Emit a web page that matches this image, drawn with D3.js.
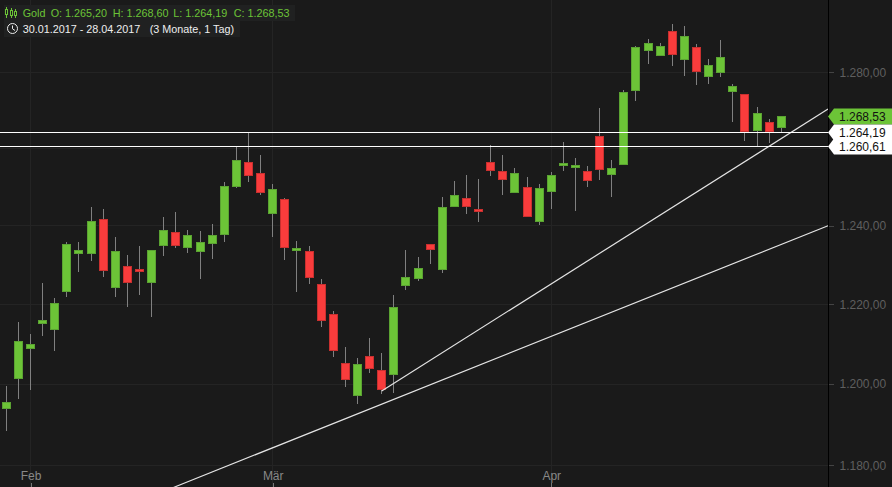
<!DOCTYPE html>
<html><head><meta charset="utf-8">
<script src="https://cdnjs.cloudflare.com/ajax/libs/d3/7.8.5/d3.min.js"></script>
<style>html,body{margin:0;padding:0;background:#1a1a1a;overflow:hidden}svg{display:block;font-family:"Liberation Sans",Arial,sans-serif}</style>
</head><body><svg id="c" width="892" height="487"></svg>
<script>
const instrument = "Gold";
const rangeText = "30.01.2017 - 28.04.2017";
const rangeNote = "(3 Monate, 1 Tag)";
const open  = [1193.8,1201.3,1208.8,1215.0,1213.5,1223.0,1232.7,1232.7,1241.6,1224.0,1229.6,1228.9,1225.3,1234.7,1238.5,1234.4,1233.2,1235.4,1237.5,1249.9,1256.4,1253.5,1242.9,1246.8,1233.7,1233.4,1225.1,1217.5,1205.3,1197.0,1207.0,1203.5,1202.3,1224.5,1226.3,1235.2,1228.6,1244.7,1247.0,1244.2,1256.4,1254.0,1248.3,1249.9,1241.0,1248.6,1255.3,1255.1,1254.0,1263.2,1253.2,1255.6,1275.0,1285.6,1284.3,1290.9,1283.2,1286.7,1278.7,1279.7,1274.7,1274.2,1264.5,1266.8,1265.20];
const high  = [1199.5,1215.5,1212.5,1225.3,1221.5,1235.7,1235.7,1244.7,1244.4,1237.2,1232.4,1234.7,1233.7,1242.3,1243.6,1239.0,1238.7,1240.5,1251.2,1260.3,1264.2,1258.4,1250.7,1247.0,1236.2,1234.9,1226.3,1218.3,1209.3,1206.5,1211.5,1207.8,1222.3,1233.7,1231.9,1235.4,1247.5,1251.4,1253.2,1252.0,1261.0,1258.4,1254.8,1252.5,1250.7,1253.8,1261.6,1257.4,1255.3,1270.5,1257.1,1275.3,1286.9,1288.8,1287.7,1292.8,1292.2,1287.4,1283.5,1288.5,1276.8,1274.2,1270.8,1267.6,1268.60];
const low   = [1188.4,1196.3,1198.5,1212.0,1208.3,1221.8,1228.1,1230.9,1226.8,1221.8,1219.3,1222.3,1216.8,1232.2,1234.4,1232.9,1226.3,1231.4,1235.7,1249.6,1251.2,1247.8,1237.0,1231.1,1223.0,1225.1,1214.3,1206.8,1199.3,1195.1,1202.8,1197.5,1197.8,1223.5,1225.8,1230.1,1227.8,1244.7,1242.9,1241.0,1252.7,1247.8,1248.3,1242.3,1240.3,1244.4,1254.0,1243.9,1249.9,1251.7,1247.3,1255.6,1272.4,1282.1,1284.3,1281.6,1279.0,1276.6,1276.8,1278.7,1266.8,1261.8,1260.5,1261.3,1264.19];
const close = [1195.6,1210.8,1210.0,1216.0,1220.3,1235.4,1233.9,1241.3,1228.4,1233.4,1225.3,1228.1,1233.7,1239.0,1234.7,1237.5,1235.7,1237.5,1250.1,1257.1,1252.7,1248.3,1249.4,1234.2,1234.4,1226.6,1215.8,1208.3,1201.0,1205.0,1203.8,1198.5,1219.3,1226.8,1229.1,1233.9,1244.9,1247.8,1244.9,1243.4,1254.0,1251.7,1253.5,1242.3,1249.6,1253.2,1256.1,1255.8,1251.4,1254.3,1254.8,1274.7,1286.7,1287.7,1286.9,1284.5,1289.6,1280.0,1281.9,1284.0,1276.3,1264.2,1269.2,1264.2,1268.53];
const monthTickIndex = [2,22,45];
const monthTickLabels = ["Feb","Mär","Apr"];
const priceTicks = [1180,1200,1220,1240,1260,1280];
const levels = [1264.19,1260.61];
const trendA = [[31,1198.3],[67.86,1270.3]];
const trendB = [[13.8,1174.6],[67.86,1240.0]];

const GREEN="#6cc437", GREEN_D="#5ba332", RED="#f93c3c", RED_D="#c9302f", BG="#1a1a1a", GRID="#242424";
const W=892,H=487,plotR=828;
const svg=d3.select("#c");
const x=d3.scaleLinear().domain([0,64]).range([6.3,781.3]);
const y=d3.scaleLog().domain([1180,1280]).range([465.3,72.3]);
const de=d3.formatLocale({decimal:",",thousands:".",grouping:[3],currency:["","€"]}).format(",.2f");

svg.append("rect").attr("width",W).attr("height",H).attr("fill",BG);

// grid
const grid=svg.append("g").attr("shape-rendering","crispEdges").attr("stroke",GRID);
grid.selectAll(".h").data(priceTicks).join("line").attr("x1",0).attr("x2",plotR).attr("y1",d=>Math.floor(y(d))+.5).attr("y2",d=>Math.floor(y(d))+.5);
grid.selectAll(".v").data(monthTickIndex).join("line").attr("y1",0).attr("y2",H).attr("x1",d=>Math.floor(x(d))+.5).attr("x2",d=>Math.floor(x(d))+.5);

// candles
const idx=d3.range(open.length);
const cg=svg.append("g").attr("shape-rendering","crispEdges");
cg.selectAll(".w").data(idx).join("line")
  .attr("x1",i=>Math.floor(x(i))+.5).attr("x2",i=>Math.floor(x(i))+.5)
  .attr("y1",i=>Math.round(y(high[i]))).attr("y2",i=>Math.round(y(low[i])))
  .attr("stroke","#808080");
cg.selectAll(".b").data(idx).join("rect")
  .attr("x",i=>Math.floor(x(i))-4+.5).attr("width",8)
  .attr("y",i=>Math.round(y(Math.max(open[i],close[i])))+.5)
  .attr("height",i=>Math.max(2,Math.round(y(Math.min(open[i],close[i])))-Math.round(y(Math.max(open[i],close[i])))-1))
  .attr("fill",i=>close[i]>=open[i]?GREEN:RED)
  .attr("stroke",i=>close[i]>=open[i]?GREEN_D:RED_D);

// lines
const ln=d3.line().x(d=>x(d[0])).y(d=>y(d[1]));
[trendA,trendB].forEach(t=>svg.append("path").attr("d",ln(t)).attr("fill","none").attr("stroke","#e4e4e4").attr("stroke-width",1.2));
svg.append("g").attr("shape-rendering","crispEdges").selectAll("line").data(levels).join("line")
  .attr("x1",0).attr("x2",plotR).attr("y1",d=>Math.round(y(d))+.5).attr("y2",d=>Math.round(y(d))+.5).attr("stroke","#fff");

// axes
const yAxis=d3.axisRight(y).tickValues(priceTicks).tickFormat(de).tickSize(5).tickPadding(6);
const ya=svg.append("g").attr("transform",`translate(${plotR+.5},0)`).call(yAxis);
ya.select(".domain").remove();
ya.selectAll("line").attr("stroke","#444").attr("shape-rendering","crispEdges");
ya.selectAll("text").attr("fill","#5f5f5f").attr("font-size",12).attr("font-family","Liberation Sans");
const xAxis=d3.axisBottom(x).tickValues(monthTickIndex).tickFormat((d,i)=>monthTickLabels[i]).tickSize(4).tickPadding(0);
const xa=svg.append("g").attr("transform",`translate(0,${H-4})`).call(xAxis);
xa.select(".domain").remove();
xa.selectAll("line").attr("stroke","#777").attr("shape-rendering","crispEdges");
xa.selectAll("text").attr("fill","#888").attr("font-size",12).attr("font-family","Liberation Sans").attr("y",-3).attr("dy",0);
svg.append("line").attr("x1",plotR+.5).attr("x2",plotR+.5).attr("y1",0).attr("y2",H).attr("stroke","#000").attr("shape-rendering","crispEdges");

// price tags
const last=close.length-1;
const tags=[{v:close[last],f:GREEN},...levels.map(v=>({v,f:"#fff"}))];
const tg=svg.selectAll(".tag").data(tags).join("g").attr("transform",d=>`translate(${plotR},${Math.round(y(d.v))+.5})`);
tg.append("path").attr("d","M0,0L6,-8H64V8H6Z").attr("fill",d=>d.f);
tg.append("text").attr("x",11).attr("y",4.5).attr("font-size",12).attr("fill","#111").text(d=>de(d.v));

// header
const hd=svg.append("g").attr("font-size",10.8);
hd.append("rect").attr("x",4).attr("y",5).attr("width",291).attr("height",16).attr("fill","#202121");
hd.append("rect").attr("x",4).attr("y",21).attr("width",236).attr("height",16).attr("fill","#202121");
const ohlc=[["Gold",22.7,instrument],["O",50.7,"O: "+de(open[last])],["H",112.7,"H: "+de(high[last])],["L",173.3,"L: "+de(low[last])],["C",233.7,"C: "+de(close[last])]];
hd.selectAll(".o").data(ohlc).join("text").attr("x",d=>d[1]).attr("y",17).attr("fill",GREEN).text(d=>d[2]);
hd.append("text").attr("x",22.7).attr("y",33).attr("fill","#eee").text(rangeText);
hd.append("text").attr("x",149.7).attr("y",33).attr("fill","#eee").text(rangeNote);
// icons
const ic=hd.append("g").attr("stroke",GREEN).attr("fill","none").attr("shape-rendering","crispEdges");
[[6.5,9,14,7,18],[11.5,10,15,8,18],[15.5,11,15,9,18]].forEach(a=>{
  ic.append("line").attr("x1",a[0]).attr("x2",a[0]).attr("y1",a[3]).attr("y2",a[4]);
  ic.append("rect").attr("x",a[0]-1).attr("y",a[1]).attr("width",2).attr("height",a[2]-a[1]).attr("fill",BG);
});
const cl=hd.append("g").attr("stroke","#eee").attr("fill","none");
cl.append("circle").attr("cx",12.5).attr("cy",28.5).attr("r",5);
cl.append("path").attr("d","M12.5,25.5V28.8L15,30.5");
</script></body></html>
